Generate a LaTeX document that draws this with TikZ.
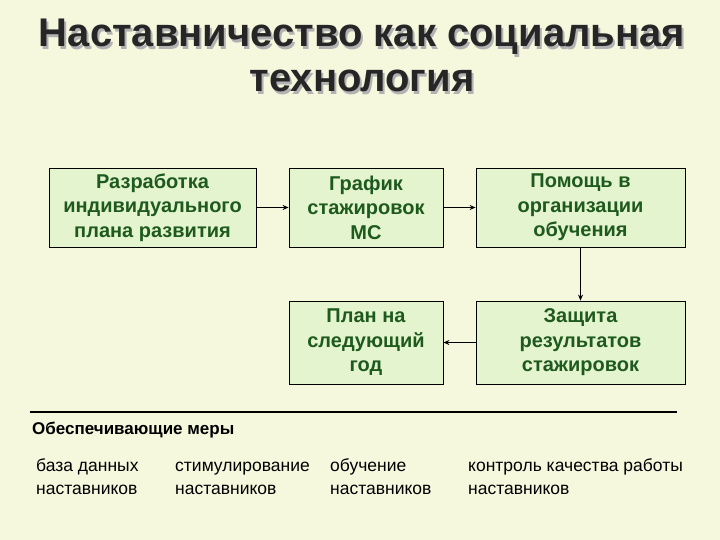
\documentclass[tikz,border=0pt]{standalone}
\usepackage{fontspec}
\setmainfont{Liberation Sans}
\usetikzlibrary{arrows.meta}
\definecolor{bg}{HTML}{F6F8DE}
\definecolor{boxfill}{HTML}{E4F4CE}
\definecolor{txt}{HTML}{1E5A1E}
\begin{document}
\begin{tikzpicture}[x=1pt,y=-1pt,
  blk/.style={draw=black,line width=0.8pt,fill=boxfill,text=txt,font=\bfseries\fontsize{20}{24.5}\selectfont,align=center,inner sep=0pt},
  arr/.style={-{Stealth[length=6pt,width=5pt]},line width=1pt},
  lbl/.style={anchor=base west,align=left,font=\fontsize{17.5}{23}\selectfont,inner sep=0pt}]
\fill[bg] (0,0) rectangle (720,540);
\useasboundingbox (0,0) rectangle (720,540);
\node[text=gray!60,font=\bfseries\fontsize{40}{45}\selectfont,align=center] at (364,58) {Наставничество как социальная\\технология};
\node (title) [text=black!85,font=\bfseries\fontsize{40}{45}\selectfont,align=center] at (362,55) {Наставничество как социальная\\технология};
\node (b1) [blk,minimum width=207,minimum height=79] at (152.5,207.5) {Разработка\\индивидуального\\плана развития};
\node (b2) [blk,minimum width=154,minimum height=79] at (366,207.5) {График\\стажировок\\МС};
\node (b3) [blk,minimum width=209,minimum height=79] at (580.5,207.5) {Помощь в\\организации\\обучения};
\node (b4) [blk,minimum width=154,minimum height=83] at (366,342.5) {План на\\следующий\\год};
\node (b5) [blk,minimum width=209,minimum height=83] at (580.5,342.5) {Защита\\результатов\\стажировок};
\draw[arr] (b1) -- (b2);
\draw[arr] (b2) -- (b3);
\draw[arr] (b3) -- (b5);
\draw[arr] (b5) -- (b4);
\coordinate (l1) at (30,412); \coordinate (l2) at (677,412);
\draw[line width=1.2pt] (l1) -- (l2);
\node (m) [anchor=base west,font=\bfseries\fontsize{17}{20}\selectfont,inner sep=0pt] at (32,434) {Обеспечивающие меры};
\node (c1) [lbl] at (36,494) {база данных\\наставников};
\node (c2) [lbl] at (175,494) {стимулирование\\наставников};
\node (c3) [lbl] at (330,494) {обучение\\наставников};
\node (c4) [lbl] at (468,494) {контроль качества работы\\наставников};
\end{tikzpicture}
\end{document}
